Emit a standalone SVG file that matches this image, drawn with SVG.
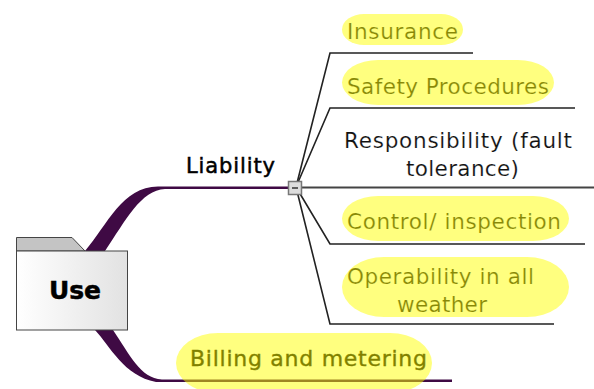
<svg xmlns="http://www.w3.org/2000/svg" width="594" height="389" viewBox="0 0 594 389">
<style>
text{font-family:"DejaVu Sans",Verdana,sans-serif;fill:#000}
.t{font-size:21.500px;fill:#111;stroke:#fff;stroke-width:.15}
.l{fill:none;stroke:#222;stroke-width:1.600}
.h{fill:#ffff00;fill-opacity:.5}
</style>
<defs><linearGradient id="g" x1="0" x2="1" y1="0" y2="0"><stop offset="0" stop-color="#fff"/><stop offset="1" stop-color="#e2e2e2"/></linearGradient></defs>
<rect width="594" height="389" fill="#fff"/>
<g id="connectors">
<path d="M85 251C108 224 122 187 158 186.500H295V189H165C141 190 126 220 105 251Z" fill="#3f0a44"/>
<path d="M95 330C110 346 124 376 156 382H452V379.500H162C140 378 130 355 113 330Z" fill="#3f0a44"/>
<path class="l" d="M296 187L330 53H473"/>
<path class="l" d="M296 187L330 108H575"/>
<path d="M295 187.500H594" fill="none" stroke="#444" stroke-width="1.800"/>
<path class="l" d="M296 187L330 244H585"/>
<path class="l" d="M296 187L330 324H554"/>
</g>
<g id="use">
<path d="M16.500 251V237.500H72L85 251Z" fill="#c4c4c4" stroke="#444"/>
<rect x="16.500" y="251" width="111" height="79" fill="url(#g)" stroke="#444"/>
<text x="49" y="299" textLength="52" font-weight="700" style="font-size:25px;stroke:#000;stroke-width:.5">Use</text>
</g>
<g id="liability">
<text x="186" y="173" textLength="89" style="font-size:21px;stroke:#000;stroke-width:.5">Liability</text>
<rect x="288.500" y="181.500" width="13" height="13" fill="#ddd" stroke="#777" stroke-width="1.500"/>
<path d="M292 188H298" stroke="#333" stroke-width="1.500"/>
</g>
<g id="insurance">
<text class="t" x="347" y="39" textLength="111">Insurance</text>
<rect class="h" x="342" y="14" width="121" height="31" rx="22" ry="15.500"/>
</g>
<g id="safety">
<text class="t" x="347" y="94" textLength="202">Safety Procedures</text>
<rect class="h" x="342" y="60" width="212" height="45" rx="36" ry="22.500"/>
</g>
<g id="responsibility">
<text class="t" x="344" y="148" textLength="228">Responsibility (fault</text>
<text class="t" x="406" y="176" textLength="113">tolerance)</text>
</g>
<g id="control">
<text class="t" x="347" y="229" textLength="214">Control/ inspection</text>
<rect class="h" x="342" y="196" width="227" height="45" rx="36" ry="22.500"/>
</g>
<g id="operability">
<text class="t" x="347" y="284" textLength="187">Operability in all</text>
<text class="t" x="397" y="312" textLength="90">weather</text>
<rect class="h" x="342" y="257" width="227" height="60" rx="42" ry="30"/>
</g>
<g id="billing">
<text x="190" y="366" textLength="237" style="font-size:22px;stroke:#000;stroke-width:.4">Billing and metering</text>
<rect class="h" x="176" y="333" width="256" height="60" rx="42" ry="30"/>
</g>
</svg>
